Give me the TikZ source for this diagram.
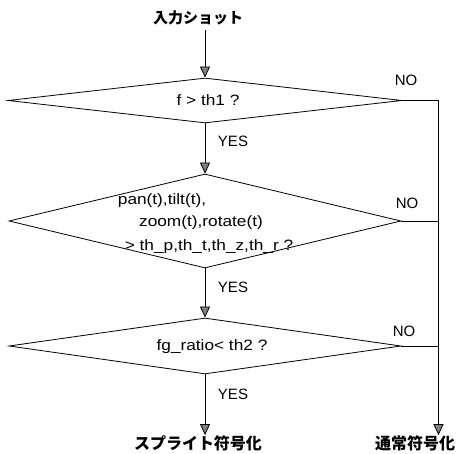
\documentclass[tikz,border=0pt]{standalone}
\usepackage{fontspec}
\setmainfont{Liberation Sans}
\newfontfamily\wide[FakeStretch=1.15]{Liberation Sans}
\newfontfamily\jp{Noto Sans CJK JP}
\usetikzlibrary{shapes.geometric,arrows.meta}
\tikzset{
  dec/.style={shape=diamond, draw, line width=0.8pt, inner sep=0pt},
  cond/.style={font=\wide\fontsize{15}{17}\selectfont, inner sep=0pt},
  yn/.style={font=\fontsize{15}{17}\selectfont, inner sep=0pt},
  jlabel/.style={font=\jp\bfseries\fontsize{16}{18}\selectfont, inner sep=0pt},
  flow/.style={line width=0.8pt, -{Triangle[width=10pt,length=11pt,fill=black!50]}},
  conn/.style={line width=0.8pt}
}
\begin{document}
\begin{tikzpicture}[x=1pt,y=-1pt]
\useasboundingbox (0,0) rectangle (464,454);
% title
\node[jlabel, font=\jp\bfseries\fontsize{15}{17}\selectfont] (start) at (198,18) {入力ショット};
% decisions
\node[dec, minimum width=394pt, minimum height=45pt] (d1) at (205,100.5) {};
\node[cond] (t1) at (208,100) {f > th1 ?};
\node[dec, minimum width=392pt, minimum height=94pt] (d2) at (205,221) {};
\node[cond] (t2a) at (162,201) {pan(t),tilt(t),};
\node[cond] (t2b) at (201,223) {zoom(t),rotate(t)};
\node[cond] (t2c) at (209,247) {> th\_p,th\_t,th\_z,th\_r ?};
\node[dec, minimum width=392pt, minimum height=56pt] (d3) at (205,346) {};
\node[cond] (t3) at (212,347) {fg\_ratio< th2 ?};
% results
\node[jlabel] (sprite) at (198,443) {スプライト符号化};
\node[jlabel] (normal) at (415,443) {通常符号化};
% labels
\node[yn] (y1) at (233,141) {YES};
\node[yn] (y2) at (233,287) {YES};
\node[yn] (y3) at (233,394) {YES};
\node[yn] (n1) at (406,80) {NO};
\node[yn] (n2) at (407,203) {NO};
\node[yn] (n3) at (404,331) {NO};
% main flow
\coordinate (top) at (205,30);
\draw[flow] (top) -- (d1.north);
\draw[flow] (d1.south) -- (d2.north);
\draw[flow] (d2.south) -- (d3.north);
\draw[flow] (d3.south) -- (d3.south |- sprite.north) ;
% NO branch
\coordinate (r1) at (438.5,100.5);
\draw[conn] (d1.east) -- (r1);
\draw[flow] (r1) -- (r1 |- normal.north);
\draw[conn] (d2.east) -- (d2.east -| r1);
\draw[conn] (d3.east) -- (d3.east -| r1);
\end{tikzpicture}
\end{document}
